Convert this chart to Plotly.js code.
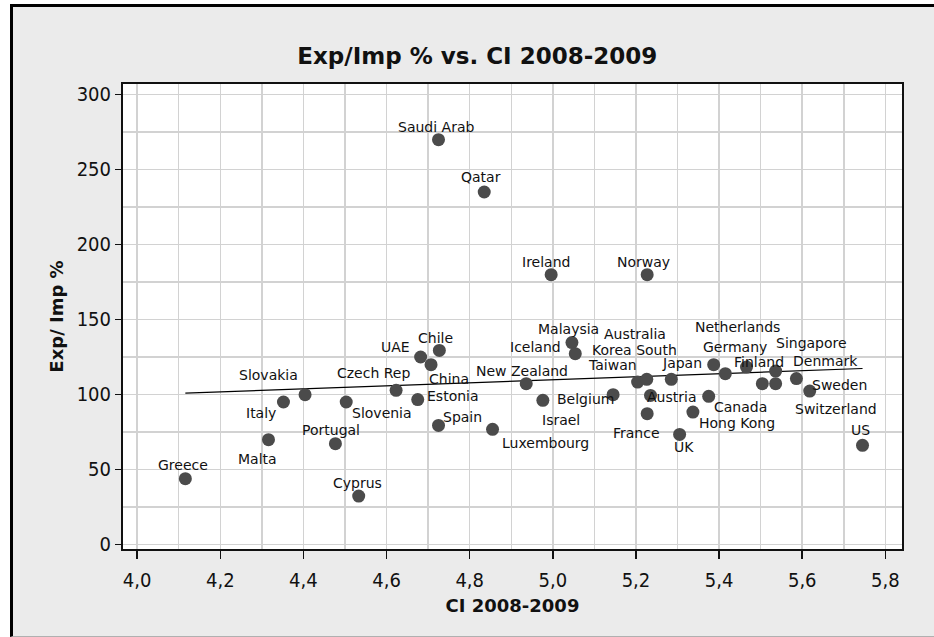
<!DOCTYPE html>
<html>
<head>
<meta charset="utf-8">
<script src="https://cdn.plot.ly/plotly-3.0.1.min.js"></script>
<style>
  html, body { margin: 0; padding: 0; background: #ffffff; }
  #frame {
    position: absolute; left: 10px; top: 4px; width: 930px; height: 629px;
    background: #ebebeb; border-left: 3px solid #000; border-top: 3px solid #000;
    border-bottom: 1px solid #b0b0b0;
  }
  #chart { position: absolute; left: 0; top: 0; width: 934px; height: 637px; }
</style>
</head>
<body>
<div id="frame"></div>
<div id="chart"></div>
<script>
// Countries, competitiveness index (CI 2008-2009) and export/import ratio (%)
const countries = [
  "Greece", "Malta", "Italy", "Slovakia", "Portugal", "Slovenia", "Cyprus", "Czech Rep",
  "Estonia", "UAE", "China", "Chile", "Spain", "Saudi Arab", "Qatar", "Luxembourg",
  "New Zealand", "Israel", "Ireland", "Malaysia", "Iceland", "Belgium", "Australia", "Taiwan",
  "France", "Norway", "Austria", "Korea South", "UK", "Hong Kong", "Canada", "Japan",
  "Netherlands", "Germany", "Finland", "Singapore", "Sweden", "Denmark", "Switzerland", "US"
];
const ciScore = [
  4.116, 4.316, 4.352, 4.404, 4.477, 4.503, 4.533, 4.623,
  4.675, 4.682, 4.707, 4.727, 4.725, 4.725, 4.835, 4.855,
  4.936, 4.976, 4.996, 5.046, 5.054, 5.145, 5.204, 5.226,
  5.227, 5.227, 5.235, 5.285, 5.305, 5.337, 5.375, 5.387,
  5.415, 5.466, 5.504, 5.536, 5.536, 5.586, 5.618, 5.745
];
const expImp = [
  43.8, 69.8, 94.9, 99.8, 67.1, 94.9, 32.2, 102.7,
  96.5, 124.9, 119.8, 129.3, 79.3, 269.8, 234.9, 76.7,
  107.1, 96.0, 179.8, 134.5, 127.1, 99.8, 108.2, 110.0,
  87.1, 179.8, 99.3, 110.0, 73.3, 88.2, 98.7, 119.8,
  113.8, 118.2, 107.1, 115.5, 107.1, 110.5, 102.2, 66.0
];

// Pixel offsets of each country label from its point (right / down positive)
const labelDx = [
  -2, -11, -22, -37, -4, 36, -1, -23,
  35, -25, 18, -4, 24, -3, -3, 53,
  -4, 18, -5, -3, -40, -28, -3, -34,
  -11, -4, 21, -37, 4, 44, 32, -32,
  12, -12, -3, 36, 64, 29, 26, -2
];
const labelDy = [
  -14, 19, 11, -20, -14, 11, -13, -17,
  -4, -10, 14, -12, -8, -13, -15, 14,
  -13, 20, -13, -14, -7, 4, -48, -14,
  19, -13, 2, -29, 13, 11, 11, -2,
  -47, -20, -22, -28, 1, -18, 18, -15
];

// Least-squares fit line over the full data set
function linearFit(xs, ys) {
  const n = xs.length;
  const mx = xs.reduce((a, b) => a + b, 0) / n;
  const my = ys.reduce((a, b) => a + b, 0) / n;
  let sxy = 0, sxx = 0;
  for (let i = 0; i < n; i++) {
    sxy += (xs[i] - mx) * (ys[i] - my);
    sxx += (xs[i] - mx) * (xs[i] - mx);
  }
  const slope = sxy / sxx;
  return { slope: slope, intercept: my - slope * mx };
}
const fit = linearFit(ciScore, expImp);
const fitX = [Math.min(...ciScore), Math.max(...ciScore)];
const fitY = fitX.map(x => fit.intercept + fit.slope * x);

const labelFont = { family: "DejaVu Sans, Verdana, sans-serif", size: 14, color: "#111" };
const tickFont = { family: "DejaVu Sans Condensed, DejaVu Sans, sans-serif", size: 20, color: "#111" };
const axisTitleFont = { family: "DejaVu Sans, Verdana, sans-serif", size: 18, color: "#111", weight: "bold" };

const annotations = countries.map((name, i) => ({
  x: ciScore[i], y: expImp[i], xref: "x", yref: "y",
  text: name, showarrow: false,
  xanchor: "center", yanchor: "middle",
  xshift: labelDx[i], yshift: -labelDy[i],
  font: labelFont
}));

const traces = [
  {
    type: "scatter", mode: "lines",
    x: fitX, y: fitY,
    line: { color: "#000", width: 1.2 },
    hoverinfo: "skip", showlegend: false
  },
  {
    type: "scatter", mode: "markers",
    x: ciScore, y: expImp, text: countries,
    marker: { color: "#4b4b4b", size: 13, line: { width: 0 } },
    showlegend: false
  }
];

const gridColor = "#d2d2d2";
const layout = {
  width: 934, height: 637,
  margin: { l: 123, r: 32, t: 84, b: 88, pad: 0 },
  paper_bgcolor: "rgba(0,0,0,0)",
  plot_bgcolor: "#ffffff",
  separators: ",.",
  showlegend: false,
  title: {
    text: "Exp/Imp % vs. CI 2008-2009",
    font: { family: "DejaVu Sans, Verdana, sans-serif", size: 23, color: "#111", weight: "bold" },
    xref: "container", yref: "container",
    x: 0.511, xanchor: "center", y: 0.912, yanchor: "middle"
  },
  xaxis: {
    range: [3.966, 5.84],
    tick0: 4.0, dtick: 0.2, tickformat: ".1f",
    ticks: "outside", ticklen: 8, tickwidth: 1.5, tickcolor: "#111",
    tickfont: tickFont, ticklabelstandoff: 4,
    showgrid: true, gridcolor: gridColor, gridwidth: 1.5,
    minor: { dtick: 0.1, showgrid: true, gridcolor: gridColor, gridwidth: 1.5 },
    showline: true, linecolor: "#111", linewidth: 2, mirror: true,
    zeroline: false,
    title: { text: "CI 2008-2009", font: axisTitleFont, standoff: 8 },
    automargin: false, fixedrange: true
  },
  yaxis: {
    range: [-3.1, 306.9],
    tick0: 0, dtick: 50,
    ticks: "outside", ticklen: 6, tickwidth: 1.5, tickcolor: "#111",
    tickfont: tickFont, ticklabelstandoff: 0,
    showgrid: true, gridcolor: gridColor, gridwidth: 1.5,
    minor: { dtick: 25, showgrid: true, gridcolor: gridColor, gridwidth: 1.5 },
    showline: true, linecolor: "#111", linewidth: 2, mirror: true,
    zeroline: false,
    title: { text: "Exp/ Imp %", font: axisTitleFont, standoff: 8 },
    automargin: false, fixedrange: true
  },
  annotations: annotations
};

Plotly.newPlot("chart", traces, layout, { displayModeBar: false, staticPlot: true });
</script>
</body>
</html>
